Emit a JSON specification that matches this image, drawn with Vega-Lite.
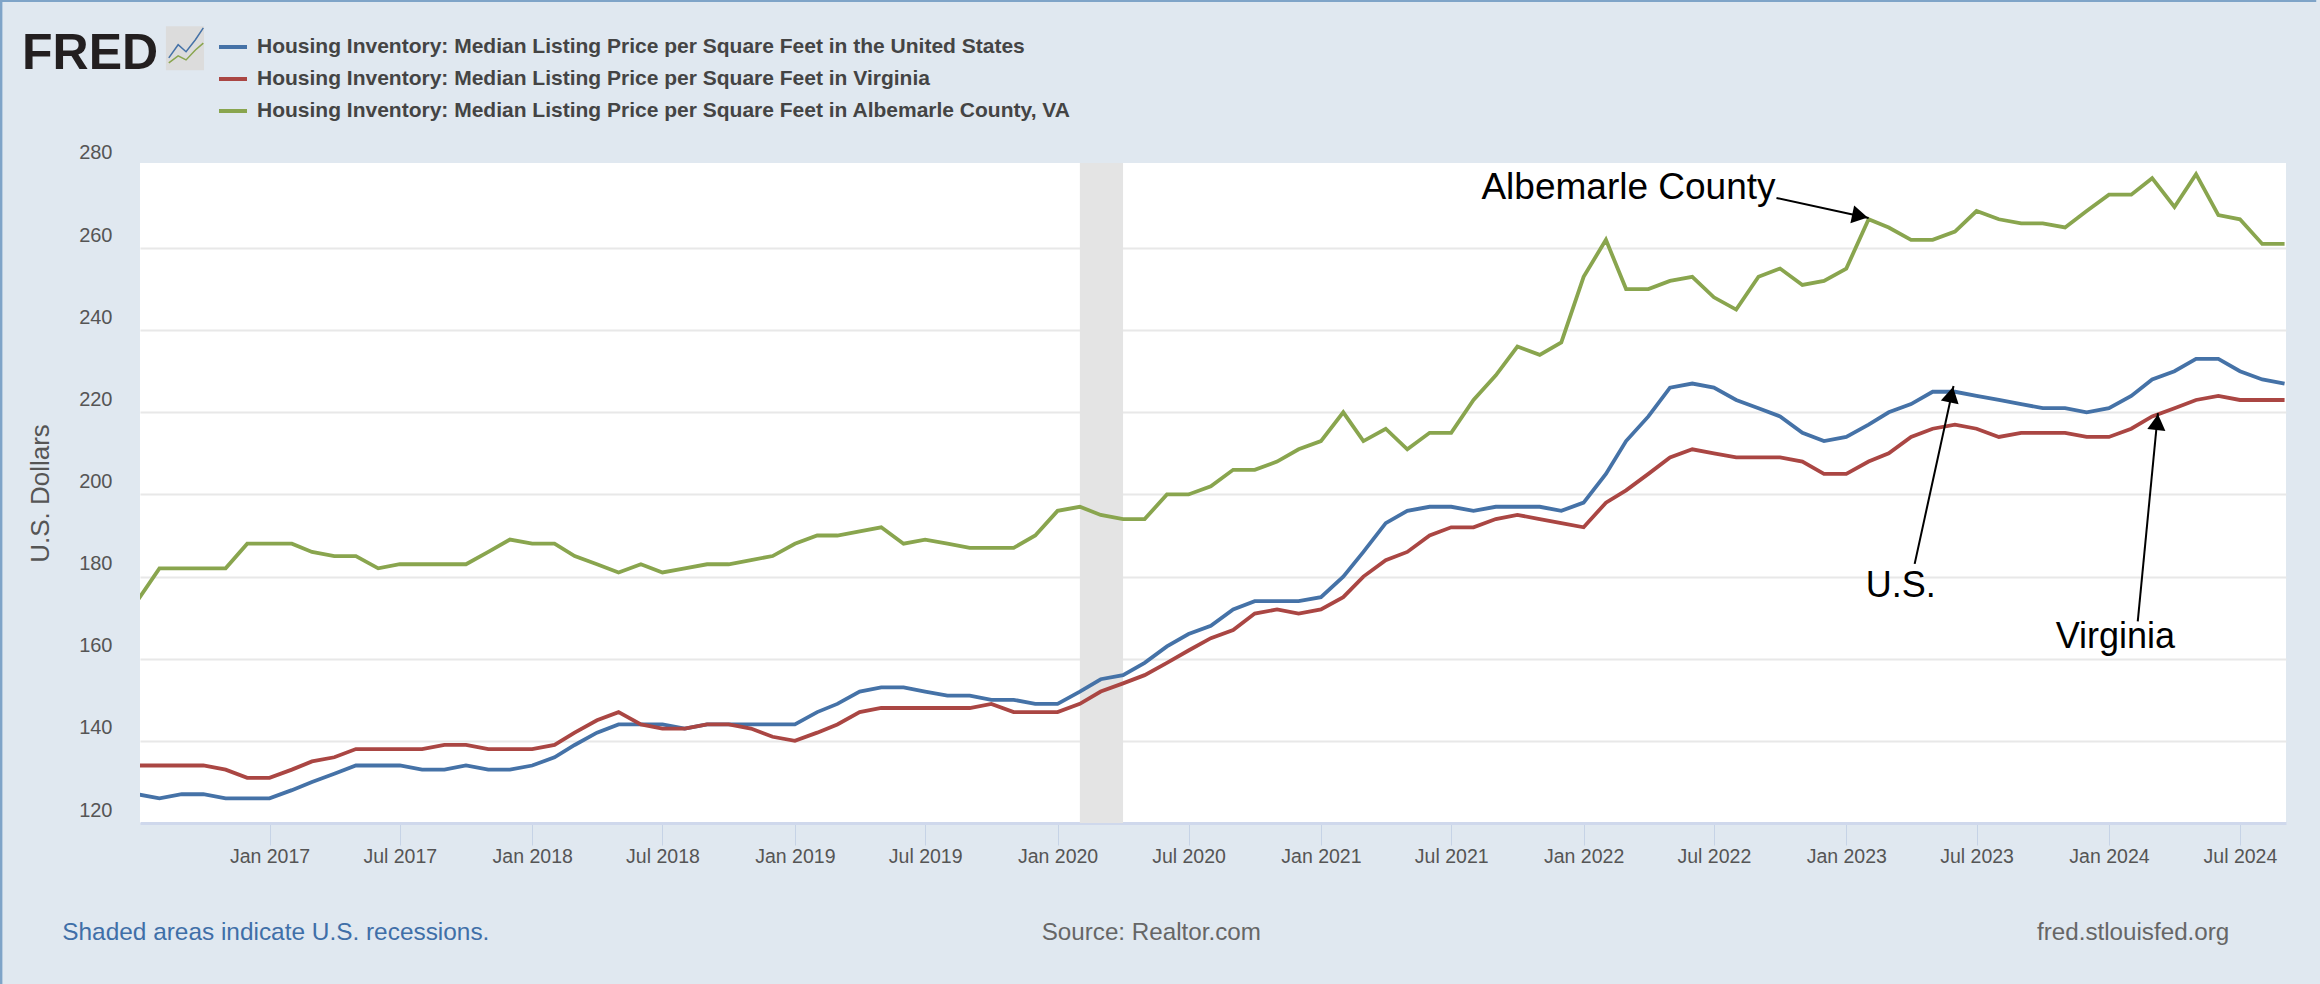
{"$schema":"https://vega.github.io/schema/vega-lite/v6.json","width":2146,"height":660,"autosize":"none","padding":{"left":140,"top":163,"right":34,"bottom":161},"background":"#e0e8f0","view":{"fill":"white","stroke":null},
"datasets":{"series":[
{"series":"the United States","date":"2016-07-01","value":127},{"series":"the United States","date":"2016-08-01","value":126},{"series":"the United States","date":"2016-09-01","value":127},{"series":"the United States","date":"2016-10-01","value":127},{"series":"the United States","date":"2016-11-01","value":126},{"series":"the United States","date":"2016-12-01","value":126},
{"series":"the United States","date":"2017-01-01","value":126},{"series":"the United States","date":"2017-02-01","value":128},{"series":"the United States","date":"2017-03-01","value":130},{"series":"the United States","date":"2017-04-01","value":132},{"series":"the United States","date":"2017-05-01","value":134},{"series":"the United States","date":"2017-06-01","value":134},{"series":"the United States","date":"2017-07-01","value":134},{"series":"the United States","date":"2017-08-01","value":133},{"series":"the United States","date":"2017-09-01","value":133},{"series":"the United States","date":"2017-10-01","value":134},{"series":"the United States","date":"2017-11-01","value":133},{"series":"the United States","date":"2017-12-01","value":133},
{"series":"the United States","date":"2018-01-01","value":134},{"series":"the United States","date":"2018-02-01","value":136},{"series":"the United States","date":"2018-03-01","value":139},{"series":"the United States","date":"2018-04-01","value":142},{"series":"the United States","date":"2018-05-01","value":144},{"series":"the United States","date":"2018-06-01","value":144},{"series":"the United States","date":"2018-07-01","value":144},{"series":"the United States","date":"2018-08-01","value":143},{"series":"the United States","date":"2018-09-01","value":144},{"series":"the United States","date":"2018-10-01","value":144},{"series":"the United States","date":"2018-11-01","value":144},{"series":"the United States","date":"2018-12-01","value":144},
{"series":"the United States","date":"2019-01-01","value":144},{"series":"the United States","date":"2019-02-01","value":147},{"series":"the United States","date":"2019-03-01","value":149},{"series":"the United States","date":"2019-04-01","value":152},{"series":"the United States","date":"2019-05-01","value":153},{"series":"the United States","date":"2019-06-01","value":153},{"series":"the United States","date":"2019-07-01","value":152},{"series":"the United States","date":"2019-08-01","value":151},{"series":"the United States","date":"2019-09-01","value":151},{"series":"the United States","date":"2019-10-01","value":150},{"series":"the United States","date":"2019-11-01","value":150},{"series":"the United States","date":"2019-12-01","value":149},
{"series":"the United States","date":"2020-01-01","value":149},{"series":"the United States","date":"2020-02-01","value":152},{"series":"the United States","date":"2020-03-01","value":155},{"series":"the United States","date":"2020-04-01","value":156},{"series":"the United States","date":"2020-05-01","value":159},{"series":"the United States","date":"2020-06-01","value":163},{"series":"the United States","date":"2020-07-01","value":166},{"series":"the United States","date":"2020-08-01","value":168},{"series":"the United States","date":"2020-09-01","value":172},{"series":"the United States","date":"2020-10-01","value":174},{"series":"the United States","date":"2020-11-01","value":174},{"series":"the United States","date":"2020-12-01","value":174},
{"series":"the United States","date":"2021-01-01","value":175},{"series":"the United States","date":"2021-02-01","value":180},{"series":"the United States","date":"2021-03-01","value":186},{"series":"the United States","date":"2021-04-01","value":193},{"series":"the United States","date":"2021-05-01","value":196},{"series":"the United States","date":"2021-06-01","value":197},{"series":"the United States","date":"2021-07-01","value":197},{"series":"the United States","date":"2021-08-01","value":196},{"series":"the United States","date":"2021-09-01","value":197},{"series":"the United States","date":"2021-10-01","value":197},{"series":"the United States","date":"2021-11-01","value":197},{"series":"the United States","date":"2021-12-01","value":196},
{"series":"the United States","date":"2022-01-01","value":198},{"series":"the United States","date":"2022-02-01","value":205},{"series":"the United States","date":"2022-03-01","value":213},{"series":"the United States","date":"2022-04-01","value":219},{"series":"the United States","date":"2022-05-01","value":226},{"series":"the United States","date":"2022-06-01","value":227},{"series":"the United States","date":"2022-07-01","value":226},{"series":"the United States","date":"2022-08-01","value":223},{"series":"the United States","date":"2022-09-01","value":221},{"series":"the United States","date":"2022-10-01","value":219},{"series":"the United States","date":"2022-11-01","value":215},{"series":"the United States","date":"2022-12-01","value":213},
{"series":"the United States","date":"2023-01-01","value":214},{"series":"the United States","date":"2023-02-01","value":217},{"series":"the United States","date":"2023-03-01","value":220},{"series":"the United States","date":"2023-04-01","value":222},{"series":"the United States","date":"2023-05-01","value":225},{"series":"the United States","date":"2023-06-01","value":225},{"series":"the United States","date":"2023-07-01","value":224},{"series":"the United States","date":"2023-08-01","value":223},{"series":"the United States","date":"2023-09-01","value":222},{"series":"the United States","date":"2023-10-01","value":221},{"series":"the United States","date":"2023-11-01","value":221},{"series":"the United States","date":"2023-12-01","value":220},
{"series":"the United States","date":"2024-01-01","value":221},{"series":"the United States","date":"2024-02-01","value":224},{"series":"the United States","date":"2024-03-01","value":228},{"series":"the United States","date":"2024-04-01","value":230},{"series":"the United States","date":"2024-05-01","value":233},{"series":"the United States","date":"2024-06-01","value":233},{"series":"the United States","date":"2024-07-01","value":230},{"series":"the United States","date":"2024-08-01","value":228},{"series":"the United States","date":"2024-09-01","value":227},
{"series":"Virginia","date":"2016-07-01","value":134},{"series":"Virginia","date":"2016-08-01","value":134},{"series":"Virginia","date":"2016-09-01","value":134},{"series":"Virginia","date":"2016-10-01","value":134},{"series":"Virginia","date":"2016-11-01","value":133},{"series":"Virginia","date":"2016-12-01","value":131},
{"series":"Virginia","date":"2017-01-01","value":131},{"series":"Virginia","date":"2017-02-01","value":133},{"series":"Virginia","date":"2017-03-01","value":135},{"series":"Virginia","date":"2017-04-01","value":136},{"series":"Virginia","date":"2017-05-01","value":138},{"series":"Virginia","date":"2017-06-01","value":138},{"series":"Virginia","date":"2017-07-01","value":138},{"series":"Virginia","date":"2017-08-01","value":138},{"series":"Virginia","date":"2017-09-01","value":139},{"series":"Virginia","date":"2017-10-01","value":139},{"series":"Virginia","date":"2017-11-01","value":138},{"series":"Virginia","date":"2017-12-01","value":138},
{"series":"Virginia","date":"2018-01-01","value":138},{"series":"Virginia","date":"2018-02-01","value":139},{"series":"Virginia","date":"2018-03-01","value":142},{"series":"Virginia","date":"2018-04-01","value":145},{"series":"Virginia","date":"2018-05-01","value":147},{"series":"Virginia","date":"2018-06-01","value":144},{"series":"Virginia","date":"2018-07-01","value":143},{"series":"Virginia","date":"2018-08-01","value":143},{"series":"Virginia","date":"2018-09-01","value":144},{"series":"Virginia","date":"2018-10-01","value":144},{"series":"Virginia","date":"2018-11-01","value":143},{"series":"Virginia","date":"2018-12-01","value":141},
{"series":"Virginia","date":"2019-01-01","value":140},{"series":"Virginia","date":"2019-02-01","value":142},{"series":"Virginia","date":"2019-03-01","value":144},{"series":"Virginia","date":"2019-04-01","value":147},{"series":"Virginia","date":"2019-05-01","value":148},{"series":"Virginia","date":"2019-06-01","value":148},{"series":"Virginia","date":"2019-07-01","value":148},{"series":"Virginia","date":"2019-08-01","value":148},{"series":"Virginia","date":"2019-09-01","value":148},{"series":"Virginia","date":"2019-10-01","value":149},{"series":"Virginia","date":"2019-11-01","value":147},{"series":"Virginia","date":"2019-12-01","value":147},
{"series":"Virginia","date":"2020-01-01","value":147},{"series":"Virginia","date":"2020-02-01","value":149},{"series":"Virginia","date":"2020-03-01","value":152},{"series":"Virginia","date":"2020-04-01","value":154},{"series":"Virginia","date":"2020-05-01","value":156},{"series":"Virginia","date":"2020-06-01","value":159},{"series":"Virginia","date":"2020-07-01","value":162},{"series":"Virginia","date":"2020-08-01","value":165},{"series":"Virginia","date":"2020-09-01","value":167},{"series":"Virginia","date":"2020-10-01","value":171},{"series":"Virginia","date":"2020-11-01","value":172},{"series":"Virginia","date":"2020-12-01","value":171},
{"series":"Virginia","date":"2021-01-01","value":172},{"series":"Virginia","date":"2021-02-01","value":175},{"series":"Virginia","date":"2021-03-01","value":180},{"series":"Virginia","date":"2021-04-01","value":184},{"series":"Virginia","date":"2021-05-01","value":186},{"series":"Virginia","date":"2021-06-01","value":190},{"series":"Virginia","date":"2021-07-01","value":192},{"series":"Virginia","date":"2021-08-01","value":192},{"series":"Virginia","date":"2021-09-01","value":194},{"series":"Virginia","date":"2021-10-01","value":195},{"series":"Virginia","date":"2021-11-01","value":194},{"series":"Virginia","date":"2021-12-01","value":193},
{"series":"Virginia","date":"2022-01-01","value":192},{"series":"Virginia","date":"2022-02-01","value":198},{"series":"Virginia","date":"2022-03-01","value":201},{"series":"Virginia","date":"2022-04-01","value":205},{"series":"Virginia","date":"2022-05-01","value":209},{"series":"Virginia","date":"2022-06-01","value":211},{"series":"Virginia","date":"2022-07-01","value":210},{"series":"Virginia","date":"2022-08-01","value":209},{"series":"Virginia","date":"2022-09-01","value":209},{"series":"Virginia","date":"2022-10-01","value":209},{"series":"Virginia","date":"2022-11-01","value":208},{"series":"Virginia","date":"2022-12-01","value":205},
{"series":"Virginia","date":"2023-01-01","value":205},{"series":"Virginia","date":"2023-02-01","value":208},{"series":"Virginia","date":"2023-03-01","value":210},{"series":"Virginia","date":"2023-04-01","value":214},{"series":"Virginia","date":"2023-05-01","value":216},{"series":"Virginia","date":"2023-06-01","value":217},{"series":"Virginia","date":"2023-07-01","value":216},{"series":"Virginia","date":"2023-08-01","value":214},{"series":"Virginia","date":"2023-09-01","value":215},{"series":"Virginia","date":"2023-10-01","value":215},{"series":"Virginia","date":"2023-11-01","value":215},{"series":"Virginia","date":"2023-12-01","value":214},
{"series":"Virginia","date":"2024-01-01","value":214},{"series":"Virginia","date":"2024-02-01","value":216},{"series":"Virginia","date":"2024-03-01","value":219},{"series":"Virginia","date":"2024-04-01","value":221},{"series":"Virginia","date":"2024-05-01","value":223},{"series":"Virginia","date":"2024-06-01","value":224},{"series":"Virginia","date":"2024-07-01","value":223},{"series":"Virginia","date":"2024-08-01","value":223},{"series":"Virginia","date":"2024-09-01","value":223},
{"series":"Albemarle County, VA","date":"2016-07-01","value":174},{"series":"Albemarle County, VA","date":"2016-08-01","value":182},{"series":"Albemarle County, VA","date":"2016-09-01","value":182},{"series":"Albemarle County, VA","date":"2016-10-01","value":182},{"series":"Albemarle County, VA","date":"2016-11-01","value":182},{"series":"Albemarle County, VA","date":"2016-12-01","value":188},
{"series":"Albemarle County, VA","date":"2017-01-01","value":188},{"series":"Albemarle County, VA","date":"2017-02-01","value":188},{"series":"Albemarle County, VA","date":"2017-03-01","value":186},{"series":"Albemarle County, VA","date":"2017-04-01","value":185},{"series":"Albemarle County, VA","date":"2017-05-01","value":185},{"series":"Albemarle County, VA","date":"2017-06-01","value":182},{"series":"Albemarle County, VA","date":"2017-07-01","value":183},{"series":"Albemarle County, VA","date":"2017-08-01","value":183},{"series":"Albemarle County, VA","date":"2017-09-01","value":183},{"series":"Albemarle County, VA","date":"2017-10-01","value":183},{"series":"Albemarle County, VA","date":"2017-11-01","value":186},{"series":"Albemarle County, VA","date":"2017-12-01","value":189},
{"series":"Albemarle County, VA","date":"2018-01-01","value":188},{"series":"Albemarle County, VA","date":"2018-02-01","value":188},{"series":"Albemarle County, VA","date":"2018-03-01","value":185},{"series":"Albemarle County, VA","date":"2018-04-01","value":183},{"series":"Albemarle County, VA","date":"2018-05-01","value":181},{"series":"Albemarle County, VA","date":"2018-06-01","value":183},{"series":"Albemarle County, VA","date":"2018-07-01","value":181},{"series":"Albemarle County, VA","date":"2018-08-01","value":182},{"series":"Albemarle County, VA","date":"2018-09-01","value":183},{"series":"Albemarle County, VA","date":"2018-10-01","value":183},{"series":"Albemarle County, VA","date":"2018-11-01","value":184},{"series":"Albemarle County, VA","date":"2018-12-01","value":185},
{"series":"Albemarle County, VA","date":"2019-01-01","value":188},{"series":"Albemarle County, VA","date":"2019-02-01","value":190},{"series":"Albemarle County, VA","date":"2019-03-01","value":190},{"series":"Albemarle County, VA","date":"2019-04-01","value":191},{"series":"Albemarle County, VA","date":"2019-05-01","value":192},{"series":"Albemarle County, VA","date":"2019-06-01","value":188},{"series":"Albemarle County, VA","date":"2019-07-01","value":189},{"series":"Albemarle County, VA","date":"2019-08-01","value":188},{"series":"Albemarle County, VA","date":"2019-09-01","value":187},{"series":"Albemarle County, VA","date":"2019-10-01","value":187},{"series":"Albemarle County, VA","date":"2019-11-01","value":187},{"series":"Albemarle County, VA","date":"2019-12-01","value":190},
{"series":"Albemarle County, VA","date":"2020-01-01","value":196},{"series":"Albemarle County, VA","date":"2020-02-01","value":197},{"series":"Albemarle County, VA","date":"2020-03-01","value":195},{"series":"Albemarle County, VA","date":"2020-04-01","value":194},{"series":"Albemarle County, VA","date":"2020-05-01","value":194},{"series":"Albemarle County, VA","date":"2020-06-01","value":200},{"series":"Albemarle County, VA","date":"2020-07-01","value":200},{"series":"Albemarle County, VA","date":"2020-08-01","value":202},{"series":"Albemarle County, VA","date":"2020-09-01","value":206},{"series":"Albemarle County, VA","date":"2020-10-01","value":206},{"series":"Albemarle County, VA","date":"2020-11-01","value":208},{"series":"Albemarle County, VA","date":"2020-12-01","value":211},
{"series":"Albemarle County, VA","date":"2021-01-01","value":213},{"series":"Albemarle County, VA","date":"2021-02-01","value":220},{"series":"Albemarle County, VA","date":"2021-03-01","value":213},{"series":"Albemarle County, VA","date":"2021-04-01","value":216},{"series":"Albemarle County, VA","date":"2021-05-01","value":211},{"series":"Albemarle County, VA","date":"2021-06-01","value":215},{"series":"Albemarle County, VA","date":"2021-07-01","value":215},{"series":"Albemarle County, VA","date":"2021-08-01","value":223},{"series":"Albemarle County, VA","date":"2021-09-01","value":229},{"series":"Albemarle County, VA","date":"2021-10-01","value":236},{"series":"Albemarle County, VA","date":"2021-11-01","value":234},{"series":"Albemarle County, VA","date":"2021-12-01","value":237},
{"series":"Albemarle County, VA","date":"2022-01-01","value":253},{"series":"Albemarle County, VA","date":"2022-02-01","value":262},{"series":"Albemarle County, VA","date":"2022-03-01","value":250},{"series":"Albemarle County, VA","date":"2022-04-01","value":250},{"series":"Albemarle County, VA","date":"2022-05-01","value":252},{"series":"Albemarle County, VA","date":"2022-06-01","value":253},{"series":"Albemarle County, VA","date":"2022-07-01","value":248},{"series":"Albemarle County, VA","date":"2022-08-01","value":245},{"series":"Albemarle County, VA","date":"2022-09-01","value":253},{"series":"Albemarle County, VA","date":"2022-10-01","value":255},{"series":"Albemarle County, VA","date":"2022-11-01","value":251},{"series":"Albemarle County, VA","date":"2022-12-01","value":252},
{"series":"Albemarle County, VA","date":"2023-01-01","value":255},{"series":"Albemarle County, VA","date":"2023-02-01","value":267},{"series":"Albemarle County, VA","date":"2023-03-01","value":265},{"series":"Albemarle County, VA","date":"2023-04-01","value":262},{"series":"Albemarle County, VA","date":"2023-05-01","value":262},{"series":"Albemarle County, VA","date":"2023-06-01","value":264},{"series":"Albemarle County, VA","date":"2023-07-01","value":269},{"series":"Albemarle County, VA","date":"2023-08-01","value":267},{"series":"Albemarle County, VA","date":"2023-09-01","value":266},{"series":"Albemarle County, VA","date":"2023-10-01","value":266},{"series":"Albemarle County, VA","date":"2023-11-01","value":265},{"series":"Albemarle County, VA","date":"2023-12-01","value":269},
{"series":"Albemarle County, VA","date":"2024-01-01","value":273},{"series":"Albemarle County, VA","date":"2024-02-01","value":273},{"series":"Albemarle County, VA","date":"2024-03-01","value":277},{"series":"Albemarle County, VA","date":"2024-04-01","value":270},{"series":"Albemarle County, VA","date":"2024-05-01","value":278},{"series":"Albemarle County, VA","date":"2024-06-01","value":268},{"series":"Albemarle County, VA","date":"2024-07-01","value":267},{"series":"Albemarle County, VA","date":"2024-08-01","value":261},{"series":"Albemarle County, VA","date":"2024-09-01","value":261}
],
"notes":[{"label":"U.S.","date":"2023-01-28","value":175.1},{"label":"Virginia","date":"2023-10-19","value":162.6}],
"arrows":[{"name":"a","date":"2022-09-26","value":272.2,"date2":"2023-02-01","value2":267.3},{"name":"u","date":"2023-04-06","value":183.1,"date2":"2023-05-30","value2":226.4},{"name":"v","date":"2024-02-10","value":169.1,"date2":"2024-03-09","value2":219.8}],
"icon":[{"line":"blue","date":"2016-08-14","value":306.3},{"line":"blue","date":"2016-08-27","value":309.5},{"line":"blue","date":"2016-09-07","value":307.8},{"line":"blue","date":"2016-09-20","value":310.7},{"line":"blue","date":"2016-10-01","value":313.6},{"line":"green","date":"2016-08-14","value":305.1},{"line":"green","date":"2016-08-27","value":306.8},{"line":"green","date":"2016-09-07","value":305.8},{"line":"green","date":"2016-09-20","value":308.2},{"line":"green","date":"2016-10-01","value":309.9}]},
"encoding":{
"x":{"field":"date","type":"temporal","title":null,"scale":{"type":"utc","domain":[{"year":2016,"month":7,"date":5,"utc":true},{"year":2024,"month":9,"date":3,"utc":true}]},
"axis":{"values":[{"year":2017,"month":1,"date":1,"utc":true},{"year":2017,"month":7,"date":1,"utc":true},{"year":2018,"month":1,"date":1,"utc":true},{"year":2018,"month":7,"date":1,"utc":true},{"year":2019,"month":1,"date":1,"utc":true},{"year":2019,"month":7,"date":1,"utc":true},{"year":2020,"month":1,"date":1,"utc":true},{"year":2020,"month":7,"date":1,"utc":true},{"year":2021,"month":1,"date":1,"utc":true},{"year":2021,"month":7,"date":1,"utc":true},{"year":2022,"month":1,"date":1,"utc":true},{"year":2022,"month":7,"date":1,"utc":true},{"year":2023,"month":1,"date":1,"utc":true},{"year":2023,"month":7,"date":1,"utc":true},{"year":2024,"month":1,"date":1,"utc":true},{"year":2024,"month":7,"date":1,"utc":true}],"format":"%b %Y","grid":false,"tickSize":22,"tickColor":"#c6d3e6","tickWidth":1,"domainColor":"#cfd8ec","domainWidth":3,"labelFont":"Liberation Sans","labelFontSize":19.5,"labelColor":"#555555","labelPadding":2,"labelOverlap":false,"labelFlush":false,"labelBound":false}},
"y":{"field":"value","type":"quantitative","title":"U.S. Dollars","scale":{"domain":[120,280.7],"nice":false,"zero":false},
"axis":{"values":[120,140,160,180,200,220,240,260,280],"grid":true,"gridColor":"#e8e8e8","gridWidth":2,"gridOpacity":{"condition":{"test":"datum.value==120||datum.value==280","value":0},"value":1},"domain":false,"ticks":false,"labelFont":"Liberation Sans","labelFontSize":20,"labelColor":"#555555","labelPadding":28,"labelOffset":-13,"labelBound":false,"labelFlush":false,"titleFont":"Liberation Sans","titleFontSize":26,"titleFontWeight":"normal","titleColor":"#555555","titlePadding":25}}},
"layer":[
{"data":{"values":[{"date":"2020-02-01","date2":"2020-04-01","value":120,"value2":280.7}]},"mark":{"type":"rect","color":"#e4e4e4"},"encoding":{"x2":{"field":"date2"},"y2":{"field":"value2"}}},
{"data":{"values":[{"date":"2015-12-20","date2":"2024-10-15","value":320.4,"value2":320.4},{"date":"2015-12-24","date2":"2015-12-24","value":320.4,"value2":80.7}]},"mark":{"type":"rule","color":"#7fa4c8","strokeWidth":4},"encoding":{"x2":{"field":"date2"},"y2":{"field":"value2"}}},
{"data":{"name":"series"},"mark":{"type":"line","strokeWidth":3.8,"interpolate":"linear","clip":true},"encoding":{"color":{"field":"series","type":"nominal","scale":{"domain":["the United States","Virginia","Albemarle County, VA"],"range":["#4572a7","#aa4643","#89a54e"]},"legend":{"orient":"none","legendX":77,"legendY":-132,"title":null,"symbolType":"stroke","symbolSize":784,"symbolStrokeWidth":4,"labelFont":"Liberation Sans","labelFontSize":21,"labelFontWeight":"bold","labelColor":"#444444","labelLimit":1200,"labelOffset":8,"rowPadding":6,"labelExpr":"'Housing Inventory: Median Listing Price per Square Feet in ' + datum.label"}}}},
{"data":{"name":"arrows"},"mark":{"type":"rule","color":"black","strokeWidth":2},"encoding":{"x2":{"field":"date2"},"y2":{"field":"value2"}}},
{"data":{"values":[{"date":"2023-01-20","value":267.8}]},"mark":{"type":"point","shape":"triangle-up","filled":true,"color":"black","opacity":1,"size":330,"angle":102}},
{"data":{"values":[{"date":"2023-05-27","value":224.3}]},"mark":{"type":"point","shape":"triangle-up","filled":true,"color":"black","opacity":1,"size":330,"angle":12}},
{"data":{"values":[{"date":"2024-03-08","value":217.6}]},"mark":{"type":"point","shape":"triangle-up","filled":true,"color":"black","opacity":1,"size":330,"angle":6}},
{"data":{"name":"notes"},"mark":{"type":"text","align":"left","baseline":"alphabetic","font":"Liberation Sans","fontSize":36,"color":"black"},"encoding":{"text":{"field":"label"}}},
{"data":{"values":[{"label":"Albemarle County","date":"2021-08-12","value":271.9}]},"mark":{"type":"text","align":"left","baseline":"alphabetic","font":"Liberation Sans","fontSize":37,"color":"black"},"encoding":{"text":{"field":"label"}}},
{"data":{"values":[{"date":"2016-01-23","value":303.6,"label":"FRED"}]},"mark":{"type":"text","align":"left","baseline":"alphabetic","font":"Liberation Sans","fontWeight":"bold","fontSize":50,"color":"#231f20"},"encoding":{"text":{"field":"label"}}},
{"data":{"values":[{"date":"2016-08-10","date2":"2016-10-02","value":303.3,"value2":314}]},"mark":{"type":"rect","color":"#dcdcdc"},"encoding":{"x2":{"field":"date2"},"y2":{"field":"value2"}}},
{"data":{"name":"icon"},"transform":[{"filter":"datum.line=='blue'"}],"mark":{"type":"line","color":"#4572a7","strokeWidth":1.5}},
{"data":{"name":"icon"},"transform":[{"filter":"datum.line=='green'"}],"mark":{"type":"line","color":"#89a54e","strokeWidth":1.5}},
{"data":{"values":[{"date":"2016-03-19","value":93.1,"label":"Shaded areas indicate U.S. recessions."}]},"mark":{"type":"text","align":"left","baseline":"middle","font":"Liberation Sans","fontSize":24.4,"color":"#3f6fa8"},"encoding":{"text":{"field":"label"}}},
{"data":{"values":[{"date":"2019-12-10","value":93.1,"label":"Source: Realtor.com"},{"date":"2023-09-23","value":93.1,"label":"fred.stlouisfed.org"}]},"mark":{"type":"text","align":"left","baseline":"middle","font":"Liberation Sans","fontSize":24.2,"color":"#666666"},"encoding":{"text":{"field":"label"}}}
]}
